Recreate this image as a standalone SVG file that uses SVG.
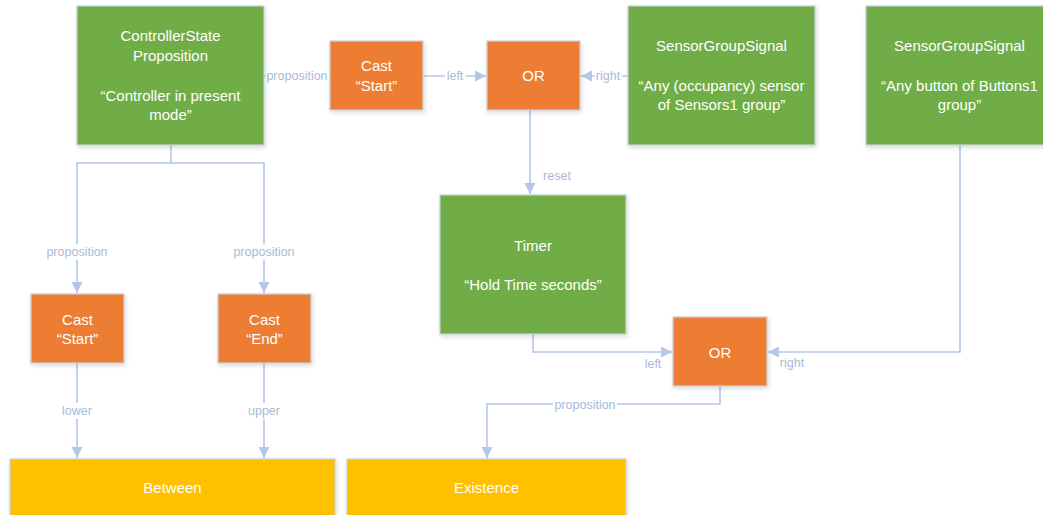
<svg xmlns="http://www.w3.org/2000/svg" width="1043" height="515" viewBox="0 0 1043 515">
  <style>
    .box { stroke: #c9d0d9; stroke-width: 1.2; filter: url(#shadow); }
    .green { fill: #70ad47; }
    .orange { fill: #ed7d31; }
    .yellow { fill: #ffc000; }
    .t { font-family: "Liberation Sans", Arial, sans-serif; font-size: 15px; fill: #ffffff; text-anchor: middle; }
    .wire { fill: none; stroke: #b4c7e7; stroke-width: 1.6; }
    .lbl { font-family: "Liberation Sans", Arial, sans-serif; font-size: 12.5px; fill: #a9bad6; text-anchor: middle; }
    .bg { fill: #ffffff; }
  </style>
  <defs>
    <filter id="shadow" x="-10%" y="-10%" width="125%" height="125%">
      <feDropShadow dx="1" dy="2" stdDeviation="2" flood-color="#000000" flood-opacity="0.15"/>
    </filter>
    <marker id="arrow" viewBox="0 0 10 10" refX="10" refY="5" markerWidth="7" markerHeight="7" orient="auto" markerUnits="strokeWidth">
      <path d="M0,0 L10,5 L0,10 Z" fill="#b4c7e7"/>
    </marker>
  </defs>

  <rect width="1043" height="515" fill="#ffffff"/>

  <!-- connectors -->
  <g id="connectors">
    <path class="wire" d="M171,145 V163 H77 V293" marker-end="url(#arrow)"/>
    <path class="wire" d="M171,163 H264 V293" marker-end="url(#arrow)"/>
    <path class="wire" d="M77,363 V458" marker-end="url(#arrow)"/>
    <path class="wire" d="M264,363 V458" marker-end="url(#arrow)"/>
    <path class="wire" d="M264,76 H330"/>
    <path class="wire" d="M423,76 H486" marker-end="url(#arrow)"/>
    <path class="wire" d="M628,76 H581" marker-end="url(#arrow)"/>
    <path class="wire" d="M530,110 V194" marker-end="url(#arrow)"/>
    <path class="wire" d="M533,334 V352 H672" marker-end="url(#arrow)"/>
    <path class="wire" d="M960,145 V352 H768" marker-end="url(#arrow)"/>
    <path class="wire" d="M720,386 V404 H487 V458" marker-end="url(#arrow)"/>

    <rect class="bg" x="45" y="244" width="64" height="16"/>
    <text class="lbl" x="77" y="256">proposition</text>
    <rect class="bg" x="232" y="244" width="64" height="16"/>
    <text class="lbl" x="264" y="256">proposition</text>
    <rect class="bg" x="60" y="403" width="34" height="16"/>
    <text class="lbl" x="77" y="415">lower</text>
    <rect class="bg" x="246" y="403" width="36" height="16"/>
    <text class="lbl" x="264" y="415">upper</text>
    <rect class="bg" x="266" y="68" width="63" height="16"/>
    <text class="lbl" x="297" y="80">proposition</text>
    <rect class="bg" x="445" y="68" width="21" height="16"/>
    <text class="lbl" x="455" y="80">left</text>
    <rect class="bg" x="595" y="68" width="27" height="16"/>
    <text class="lbl" x="608" y="80">right</text>
    <text class="lbl" x="557" y="180">reset</text>
    <text class="lbl" x="653" y="368">left</text>
    <text class="lbl" x="792" y="367">right</text>
    <rect class="bg" x="553" y="397" width="64" height="16"/>
    <text class="lbl" x="585" y="409">proposition</text>
  </g>

  <g id="controller-state">
    <rect class="box green" x="77" y="6" width="187" height="139"/>
    <text class="t" x="170.5" y="41">ControllerState</text>
    <text class="t" x="170.5" y="61">Proposition</text>
    <text class="t" x="170.5" y="101">“Controller in present</text>
    <text class="t" x="170.5" y="120">mode”</text>
  </g>

  <g id="cast-start-top">
    <rect class="box orange" x="330" y="41" width="93" height="69"/>
    <text class="t" x="376.5" y="71">Cast</text>
    <text class="t" x="376.5" y="91">“Start”</text>
  </g>

  <g id="or-top">
    <rect class="box orange" x="487" y="41" width="93" height="69"/>
    <text class="t" x="533.5" y="81">OR</text>
  </g>

  <g id="sensor-group-1">
    <rect class="box green" x="628" y="6" width="187" height="139"/>
    <text class="t" x="721.5" y="51">SensorGroupSignal</text>
    <text class="t" x="721.5" y="91">“Any (occupancy) sensor</text>
    <text class="t" x="721.5" y="110">of Sensors1 group”</text>
  </g>

  <g id="sensor-group-2">
    <rect class="box green" x="866" y="6" width="187" height="139"/>
    <text class="t" x="959.5" y="51">SensorGroupSignal</text>
    <text class="t" x="959.5" y="91">“Any button of Buttons1</text>
    <text class="t" x="959.5" y="110">group”</text>
  </g>

  <g id="timer">
    <rect class="box green" x="440" y="195" width="186" height="139"/>
    <text class="t" x="533" y="251">Timer</text>
    <text class="t" x="533" y="290">“Hold Time seconds”</text>
  </g>

  <g id="or-bottom">
    <rect class="box orange" x="673" y="317" width="94" height="69"/>
    <text class="t" x="720" y="358">OR</text>
  </g>

  <g id="cast-start">
    <rect class="box orange" x="31" y="294" width="93" height="69"/>
    <text class="t" x="77.5" y="325">Cast</text>
    <text class="t" x="77.5" y="344">“Start”</text>
  </g>

  <g id="cast-end">
    <rect class="box orange" x="218" y="294" width="93" height="69"/>
    <text class="t" x="264.5" y="325">Cast</text>
    <text class="t" x="264.5" y="344">“End”</text>
  </g>

  <g id="between">
    <rect class="box yellow" x="10" y="459" width="325" height="60"/>
    <text class="t" x="172.5" y="493">Between</text>
  </g>

  <g id="existence">
    <rect class="box yellow" x="347" y="459" width="279" height="60"/>
    <text class="t" x="486.5" y="493">Existence</text>
  </g>
</svg>
